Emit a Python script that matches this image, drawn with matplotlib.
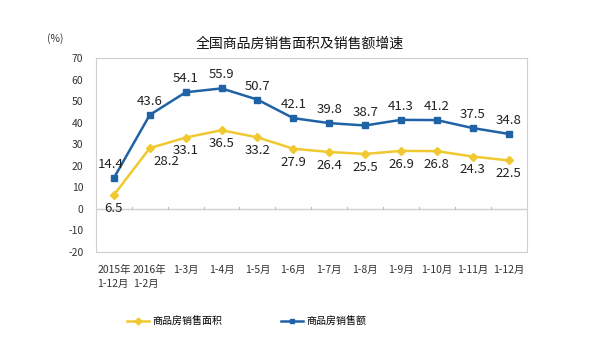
import matplotlib
matplotlib.use("Agg")
import matplotlib.pyplot as plt
from matplotlib.lines import Line2D

plt.rcParams['font.family'] = ['Noto Sans CJK SC', 'DejaVu Sans']

categories = ["2015年\n1-12月", "2016年\n1-2月", "1-3月", "1-4月", "1-5月", "1-6月",
              "1-7月", "1-8月", "1-9月", "1-10月", "1-11月", "1-12月"]
area = [6.5, 28.2, 33.1, 36.5, 33.2, 27.9, 26.4, 25.5, 26.9, 26.8, 24.3, 22.5]
sales = [14.4, 43.6, 54.1, 55.9, 50.7, 42.1, 39.8, 38.7, 41.3, 41.2, 37.5, 34.8]
yticks = [70, 60, 50, 40, 30, 20, 10, 0, -10, -20]
title = "全国商品房销售面积及销售额增速"
series_names = ["商品房销售面积", "商品房销售额"]

yellow = "#F0C930"
blue = "#1F62A5"

fig = plt.figure(figsize=(5.98, 3.58), dpi=100)
ax = fig.add_axes([0.1605, 0.296, 0.72, 0.542])
x = list(range(len(categories)))

ax.plot(x, area, color=yellow, lw=1.8, marker='D', ms=4, mfc=yellow, mec=yellow, zorder=3)
ax.plot(x, sales, color=blue, lw=1.8, marker='s', ms=4, mfc=blue, mec=blue, zorder=3)

ax.set_xlim(-0.5, len(categories) - 0.5)
ax.set_ylim(-20, 70)
ax.set_yticks(yticks)
ax.set_yticklabels([str(v) for v in yticks], fontsize=7.5, color="#333333")
ax.tick_params(axis='y', length=0, pad=9)
ax.set_xticks(x)
ax.set_xticklabels([])
ax.tick_params(axis='x', length=0)

for s in ax.spines.values():
    s.set_color("#D0D0D0")
    s.set_linewidth(0.8)

# zero axis line with boundary ticks
ax.axhline(0, color="#D0D0D0", lw=1.0, zorder=1)
for b in range(1, len(categories)):
    ax.plot([b - 0.5, b - 0.5], [0, 1.0], color="#C0C0C0", lw=0.8, zorder=1)

# x category labels below the axes
for i, lab in enumerate(categories):
    ax.annotate(lab, xy=(i, -20), xycoords='data', xytext=(0, -9), textcoords='offset points',
                ha='center', va='top', fontsize=7.5, color="#333333", linespacing=1.5,
                multialignment='left')

# data labels
for i, v in enumerate(sales):
    dx, dy = 0, 5
    if i == 0:
        dx = -2
    ax.annotate(f"{v}", xy=(i, v), xytext=(dx, dy), textcoords='offset points',
                ha='center', va='bottom', fontsize=9.5, color="#222222")
for i, v in enumerate(area):
    dx, dy = 0, -5
    if i == 1:
        dx = 12
    ax.annotate(f"{v}", xy=(i, v), xytext=(dx, dy), textcoords='offset points',
                ha='center', va='top', fontsize=9.5, color="#222222")

fig.text(0.502, 0.878, title, ha='center', va='center', fontsize=10, color="#111111")
fig.text(0.092, 0.893, "(%)", ha='center', va='center', fontsize=7.5, color="#333333")

handles = [Line2D([0], [0], color=yellow, lw=1.8, marker='D', ms=3.5),
           Line2D([0], [0], color=blue, lw=1.8, marker='s', ms=3.5)]
leg = fig.legend(handles, series_names, loc='center left', bbox_to_anchor=(0.212, 0.103), ncol=2,
                 frameon=False, fontsize=7.2, handlelength=2.2, columnspacing=5.8,
                 handletextpad=0.4, borderpad=0, borderaxespad=0)

fig.savefig("out.png", dpi=100, facecolor='white')
